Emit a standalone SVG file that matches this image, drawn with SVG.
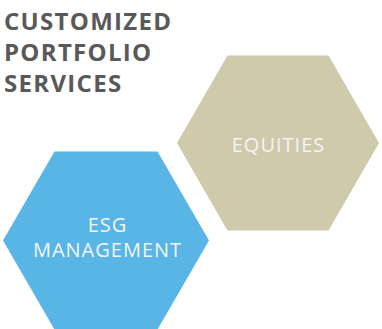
<svg xmlns="http://www.w3.org/2000/svg" width="382" height="329" viewBox="0 0 382 329">
  <style>
    .title { font-family: "Open Sans", "Noto Sans", sans-serif; font-weight: 700; font-size: 24px; fill: #595959; letter-spacing: 1.3px; }
    .label { font-family: "Open Sans", "Noto Sans", sans-serif; font-weight: 400; font-size: 20px; fill: #f4f4f4; text-anchor: middle; letter-spacing: 1px; }
  </style>
  <rect width="382" height="329" fill="#ffffff"/>
  <g id="title">
    <text class="title" x="4" y="30">CUSTOMIZED</text>
    <text class="title" x="4" y="61">PORTFOLIO</text>
    <text class="title" x="4" y="92">SERVICES</text>
  </g>
  <g id="equities">
    <polygon points="177,143 227.5,55.5 328.5,55.5 379,143 328.5,230.5 227.5,230.5" fill="#cfcaac"/>
    <text class="label" x="278.5" y="152">EQUITIES</text>
  </g>
  <g id="esg-management">
    <polygon points="3,240.5 54.5,151.5 157.5,151.5 209,240.5 157.5,329.5 54.5,329.5" fill="#58b5e5"/>
    <text class="label" x="107.5" y="232">ESG</text>
    <text class="label" x="107.5" y="257">MANAGEMENT</text>
  </g>
  <g id="connectors"/>
</svg>
